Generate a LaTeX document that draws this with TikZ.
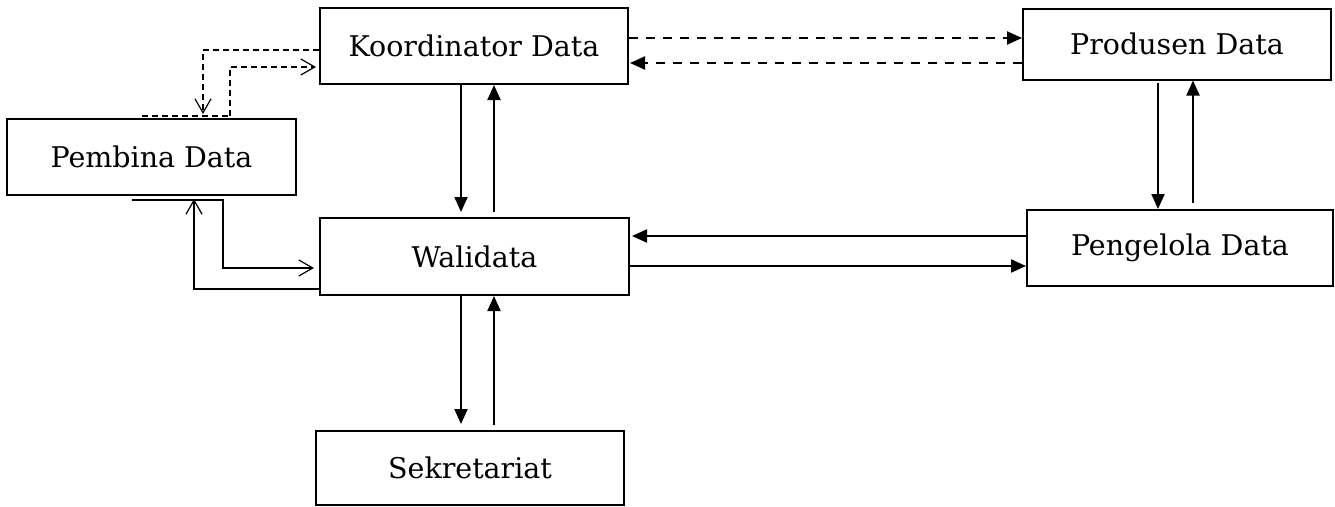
\documentclass[tikz,border=0pt]{standalone}
\usepackage{fontspec}
\setmainfont{DejaVu Serif}
\usetikzlibrary{arrows.meta}
\begin{document}
\begin{tikzpicture}[x=1pt,y=-1pt,
  box/.style={draw,line width=2pt,rectangle,inner sep=0pt,font=\fontsize{28.5}{34}\selectfont},
  sarr/.style={line width=2pt,-{Triangle[length=15pt,width=13pt]}},
  darr/.style={line width=2.2pt,dash pattern=on 9pt off 8pt,-{Triangle[length=15pt,width=13pt]}},
  thin/.style={line width=1.2pt},
  tdash/.style={line width=1.2pt,dash pattern=on 6pt off 4pt},
  oarr/.style={-{Straight Barb[length=14pt,width=16pt]}}]
\useasboundingbox (0,0) rectangle (1335,506);
\node[box,minimum width=308pt,minimum height=76pt] (k) at (474,46) {Koordinator Data};
\node[box,minimum width=308pt,minimum height=71pt] (p) at (1177,44) {Produsen Data};
\node[box,minimum width=306pt,minimum height=76pt] (g) at (1180,248) {Pengelola Data};
\node[box,minimum width=309pt,minimum height=77pt] (w) at (474.5,256.5) {Walidata};
\node[box,minimum width=308pt,minimum height=74pt] (s) at (470,468) {Sekretariat};
\node[box,minimum width=289pt,minimum height=76pt] (b) at (151.5,157) {Pembina Data};
% Koordinator <-> Walidata
\draw[sarr] (461,0 |- k.south) -- (461,212);
\draw[sarr] (494,212) -- (494,0 |- k.south);
% Walidata <-> Sekretariat
\draw[sarr] (461,0 |- w.south) -- (461,424);
\draw[sarr] (494,425) -- (494,0 |- w.south);
% Produsen <-> Pengelola
\draw[sarr] (1158,83) -- (1158,0 |- g.north);
\draw[sarr] (1193,203) -- (1193,0 |- p.south);
% Walidata <-> Pengelola
\draw[sarr] (g.west |- 0,236) -- (632,236);
\draw[sarr] (w.east |- 0,266) -- (g.west |- 0,266);
% Koordinator <-> Produsen (dashed)
\draw[darr] (k.east |- 0,38) -- (p.west |- 0,38);
\draw[darr] (p.west |- 0,63) -- (630,63);
% Pembina <-> Koordinator (thin dashed)
\draw[tdash,oarr] (k.west |- 0,50) -- (203,50) -- (203,114);
\draw[tdash] (142,116) -- (230,116);
\draw[tdash,oarr] (230,116) -- (230,67) -- (316,67);
% Pembina <-> Walidata (thin solid)
\draw[thin,oarr] (132,200) -- (223,200) -- (223,268) -- (314,268);
\draw[thin,oarr] (w.west |- 0,289) -- (194,289) -- (194,199);
\end{tikzpicture}
\end{document}
